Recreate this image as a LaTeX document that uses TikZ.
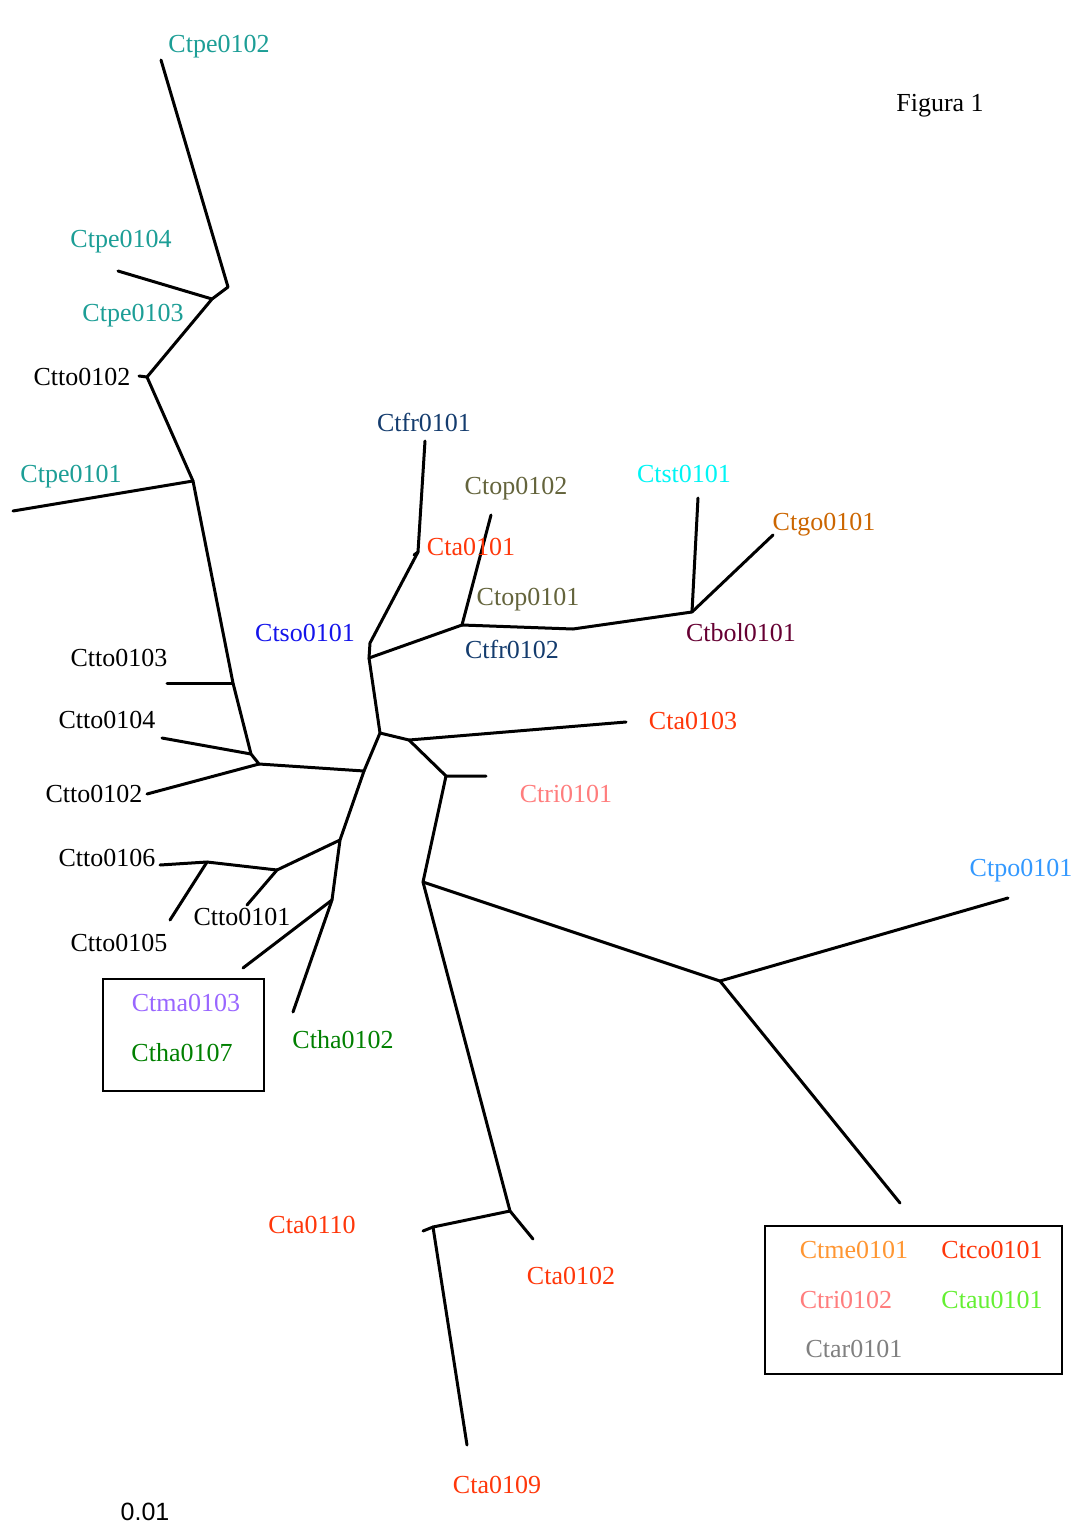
\documentclass[tikz,border=0pt]{standalone}
\usepackage{fontspec}
\setmainfont{Liberation Serif}
\newfontfamily\scalefont{Liberation Sans}
\begin{document}
\begin{tikzpicture}[x=0.5pt,y=-0.5pt,
  branch/.style={line width=1.5pt,line cap=round,line join=round},
  leaf/.style={inner sep=0pt,text height=0.7em,text depth=0pt,yshift=-0.8pt,font=\fontsize{13}{15}\selectfont},
  legend/.style={draw=black,line width=1pt}]
\definecolor{cpe}{RGB}{28,158,150}
\definecolor{cfr}{RGB}{20,60,110}
\definecolor{cta}{RGB}{255,55,10}
\definecolor{cop}{RGB}{100,100,60}
\definecolor{cst}{RGB}{0,245,245}
\definecolor{cgo}{RGB}{204,102,0}
\definecolor{cbol}{RGB}{102,0,51}
\definecolor{cso}{RGB}{20,20,235}
\definecolor{cri}{RGB}{255,125,125}
\definecolor{cpo}{RGB}{51,153,255}
\definecolor{cma}{RGB}{153,102,255}
\definecolor{cha}{RGB}{0,128,0}
\definecolor{cme}{RGB}{255,150,50}
\definecolor{cau}{RGB}{100,240,50}
\definecolor{car}{RGB}{128,128,128}
\useasboundingbox (0,0) rectangle (1080,1537);
\fill[white] (0,0) rectangle (1080,1537);

% inner vertices
\coordinate (a) at (228,287);
\coordinate (b) at (212,299);
\coordinate (c) at (147,377);
\coordinate (d) at (193,481);
\coordinate (p3) at (233,683);
\coordinate (e1) at (251,754);
\coordinate (e2) at (259,764);
\coordinate (f) at (364,771);
\coordinate (g) at (380,733);
\coordinate (h) at (340,840);
\coordinate (i) at (277,870);
\coordinate (j) at (332,900);
\coordinate (k) at (207,862);
\coordinate (m) at (369,658);
\coordinate (so) at (370,643);
\coordinate (n1) at (418,552);
\coordinate (o) at (462,625);
\coordinate (p) at (573,629);
\coordinate (q) at (692,612);
\coordinate (r) at (409,740);
\coordinate (s) at (446,776);
\coordinate (t) at (423,882);
\coordinate (u) at (720,981);
\coordinate (v) at (510,1211);
\coordinate (w) at (433,1227);

% leaf ends
\coordinate (Ltpe2) at (161,60);
\coordinate (Ltpe4) at (118,271);
\coordinate (Ltto2a) at (139,376);
\coordinate (Ltpe1) at (13,511);
\coordinate (Ltto3) at (167,683);
\coordinate (Ltto4) at (162,738);
\coordinate (Ltto2b) at (147,794);
\coordinate (Ltto1) at (247,905);
\coordinate (Ltto6) at (160,865);
\coordinate (Ltto5) at (170,920);
\coordinate (Ltma) at (243,968);
\coordinate (Ltha2) at (293,1012);
\coordinate (Ltfr1) at (425,441);
\coordinate (Lta1) at (414,555);
\coordinate (Ltop2) at (491,515);
\coordinate (Ltst) at (698,498);
\coordinate (Ltgo) at (773,535);
\coordinate (Lta3) at (626,722);
\coordinate (Ltri1) at (486,776);
\coordinate (Ltpo) at (1008,898);
\coordinate (Lbox) at (900,1203);
\coordinate (Lta2) at (533,1239);
\coordinate (Lta10) at (423,1231);
\coordinate (Lta9) at (467,1445);

% tree
\draw[branch] (Ltpe2) -- (a) -- (b) -- (c) -- (d) -- (p3) -- (e1) -- (e2) -- (f);
\draw[branch] (Ltpe4) -- (b);
\draw[branch] (Ltto2a) -- (c);
\draw[branch] (Ltpe1) -- (d);
\draw[branch] (Ltto3) -- (p3);
\draw[branch] (Ltto4) -- (e1);
\draw[branch] (Ltto2b) -- (e2);
\draw[branch] (m) -- (g) -- (f) -- (h) -- (j) -- (Ltha2);
\draw[branch] (h) -- (i) -- (Ltto1);
\draw[branch] (i) -- (k) -- (Ltto6);
\draw[branch] (k) -- (Ltto5);
\draw[branch] (j) -- (Ltma);
\draw[branch] (m) -- (so) -- (n1) -- (Ltfr1);
\draw[branch] (n1) -- (Lta1);
\draw[branch] (m) -- (o) -- (Ltop2);
\draw[branch] (o) -- (p) -- (q) -- (Ltst);
\draw[branch] (q) -- (Ltgo);
\draw[branch] (g) -- (r) -- (Lta3);
\draw[branch] (r) -- (s) -- (Ltri1);
\draw[branch] (s) -- (t) -- (u) -- (Ltpo);
\draw[branch] (u) -- (Lbox);
\draw[branch] (t) -- (v) -- (Lta2);
\draw[branch] (v) -- (w) -- (Lta10);
\draw[branch] (w) -- (Lta9);

% labels
\node[leaf,text=cpe] (nCtpe0102) at (219,44) {Ctpe0102};
\node[leaf,text=cpe] (nCtpe0104) at (121,239) {Ctpe0104};
\node[leaf,text=cpe] (nCtpe0103) at (133,313) {Ctpe0103};
\node[leaf] (nCtto0102a) at (82,377) {Ctto0102};
\node[leaf,text=cpe] (nCtpe0101) at (71,474) {Ctpe0101};
\node[leaf,text=cfr] (nCtfr0101) at (424,423) {Ctfr0101};
\node[leaf,text=cop] (nCtop0102) at (516,486) {Ctop0102};
\node[leaf,text=cta] (nCta0101) at (471,547) {Cta0101};
\node[leaf,text=cst] (nCtst0101) at (684,474) {Ctst0101};
\node[leaf,text=cgo] (nCtgo0101) at (824,522) {Ctgo0101};
\node[leaf,text=cop] (nCtop0101) at (528,597) {Ctop0101};
\node[leaf,text=cso] (nCtso0101) at (305,633) {Ctso0101};
\node[leaf,text=cfr] (nCtfr0102) at (512,650) {Ctfr0102};
\node[leaf,text=cbol] (nCtbol0101) at (741,633) {Ctbol0101};
\node[leaf] (nCtto0103) at (119,658) {Ctto0103};
\node[leaf] (nCtto0104) at (107,720) {Ctto0104};
\node[leaf,text=cta] (nCta0103) at (693,721) {Cta0103};
\node[leaf] (nCtto0102b) at (94,794) {Ctto0102};
\node[leaf,text=cri] (nCtri0101) at (566,794) {Ctri0101};
\node[leaf] (nCtto0106) at (107,858) {Ctto0106};
\node[leaf,text=cpo] (nCtpo0101) at (1021,868) {Ctpo0101};
\node[leaf] (nCtto0101) at (242,917) {Ctto0101};
\node[leaf] (nCtto0105) at (119,943) {Ctto0105};
\node[leaf,text=cha] (nCtha0102) at (343,1040) {Ctha0102};
\node[leaf,text=cta] (nCta0110) at (312,1225) {Cta0110};
\node[leaf,text=cta] (nCta0102) at (571,1276) {Cta0102};
\node[leaf,text=cta] (nCta0109) at (497,1485) {Cta0109};

% boxed groups
\draw[legend] (103,979) rectangle (264,1091);
\node[leaf,text=cma] (nCtma0103) at (186,1003) {Ctma0103};
\node[leaf,text=cha] (nCtha0107) at (182,1053) {Ctha0107};

\draw[legend] (765,1226) rectangle (1062,1374);
\node[leaf,text=cme] (nCtme0101) at (854,1250) {Ctme0101};
\node[leaf,text=cta] (nCtco0101) at (992,1250) {Ctco0101};
\node[leaf,text=cri] (nCtri0102) at (846,1300) {Ctri0102};
\node[leaf,text=cau] (nCtau0101) at (992,1300) {Ctau0101};
\node[leaf,text=car] (nCtar0101) at (854,1349) {Ctar0101};

% title and scale
\node[leaf] (title) at (940,103) {Figura 1};
\node[leaf,font=\scalefont\fontsize{12.5}{15}\selectfont] (scale) at (145,1512) {0.01};
\end{tikzpicture}
\end{document}
